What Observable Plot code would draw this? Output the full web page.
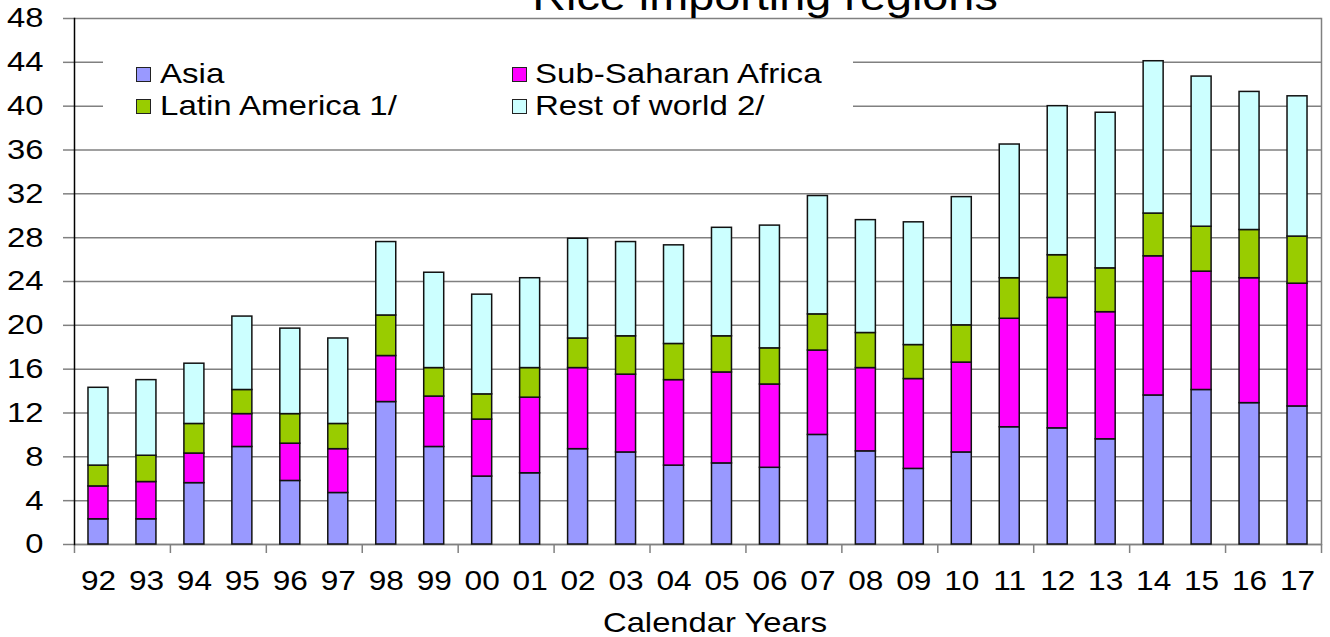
<!DOCTYPE html>
<html>
<head>
<meta charset="utf-8">
<script src="https://cdn.jsdelivr.net/npm/d3@7"></script>
<script src="https://cdn.jsdelivr.net/npm/@observablehq/plot@0.6"></script>
<style>
html, body { margin: 0; padding: 0; background: #fff; overflow: hidden; }
#wrap { position: relative; width: 1330px; height: 637px; font-family: "Liberation Sans", Arial, sans-serif; color: #000; }
#title { position: absolute; left: 765px; top: -23px; font-size: 39px; line-height: 39px; white-space: nowrap; transform: translateX(-50%) scaleX(1.2); }
#legend { position: absolute; left: 103px; top: 44px; width: 750px; height: 76px; background: #fff; }
.sw { position: absolute; width: 13px; height: 13px; border: 1px solid #222; }
.lt { position: absolute; font-size: 28px; line-height: 28px; white-space: nowrap; transform-origin: left center; transform: scaleX(1.18); }
</style>
</head>
<body>
<div id="wrap">
  <div id="chart"></div>
  <div id="title"></div>
  <div id="legend"></div>
</div>
<script>
const titleText = "Rice importing regions";
const xLabel = "Calendar Years";
const years = ["92","93","94","95","96","97","98","99","00","01","02","03","04","05","06","07","08","09","10","11","12","13","14","15","16","17"];
const regions = ["Asia", "Sub-Saharan Africa", "Latin America 1/", "Rest of world 2/"];
const colors = ["#9999FF", "#FF00FF", "#99CC00", "#CCFFFF"];
const asia  = [2.3,2.3,5.6,8.9,5.8,4.7,13.0,8.9,6.2,6.5,8.7,8.4,7.2,7.4,7.0,10.0,8.5,6.9,8.4,10.7,10.6,9.6,13.6,14.1,12.9,12.6];
const ssa   = [3.0,3.4,2.7,3.0,3.4,4.0,4.2,4.6,5.2,6.9,7.4,7.1,7.8,8.3,7.6,7.7,7.6,8.2,8.2,9.9,11.9,11.6,12.7,10.8,11.4,11.2];
const latam = [1.9,2.4,2.7,2.2,2.7,2.3,3.7,2.6,2.3,2.7,2.7,3.5,3.3,3.3,3.3,3.3,3.2,3.1,3.4,3.7,3.9,4.0,3.9,4.1,4.4,4.3];
const rest  = [7.1,6.9,5.5,6.7,7.8,7.8,6.7,8.7,9.1,8.2,9.1,8.6,9.0,9.9,11.2,10.8,10.3,11.2,11.7,12.2,13.6,14.2,13.9,13.7,12.6,12.8];
const yTicks = [0,4,8,12,16,20,24,28,32,36,40,44,48];

const series = [asia, ssa, latam, rest];
const data = years.flatMap((yr, i) => regions.map((r, j) => ({year: yr, region: r, value: series[j][i]})));
const evenYears = years.filter((d, i) => i % 2 === 0);
const lastYear = [years[years.length - 1]];

const plot = Plot.plot({
  width: 1330, height: 637,
  marginLeft: 74, marginRight: 9, marginTop: 18, marginBottom: 93,
  style: {fontFamily: "'Liberation Sans', Arial, sans-serif", fontSize: "27px", background: "white", color: "#000", overflow: "visible"},
  x: {domain: years, paddingInner: 0.583, paddingOuter: 0.2915, align: 0.5, round: false, axis: null},
  y: {domain: [0, 48], axis: null},
  color: {domain: regions, range: colors},
  marks: [
    Plot.gridY(yTicks, {stroke: "#808080", strokeOpacity: 1, strokeWidth: 1.5}),
    Plot.frame({anchor: "right", stroke: "#808080", strokeWidth: 1.5}),
    Plot.axisY(yTicks, {tickSize: 11, tickPadding: 20, stroke: "#808080", strokeWidth: 1.5, label: null, fontSize: 28}),
    Plot.axisX(evenYears, {tickSize: 9, dx: -24, fill: "none", stroke: "#808080", strokeWidth: 1.5, label: null}),
    Plot.axisX(lastYear, {tickSize: 9, dx: 24, fill: "none", stroke: "#808080", strokeWidth: 1.5, label: null}),
    Plot.axisX(years, {tickSize: 0, tickPadding: 26, label: null, fontSize: 27}),
    Plot.ruleY([0], {stroke: "#808080", strokeWidth: 1.5}),
    Plot.barY(data, {x: "year", y: "value", fill: "region", order: regions, stroke: "#111", strokeWidth: 1.5}),
    Plot.frame({anchor: "left", stroke: "#000", strokeWidth: 1.5}),
    Plot.text([xLabel], {frameAnchor: "bottom", lineAnchor: "middle", dx: 17, dy: 79, fontSize: 28})
  ]
});
document.getElementById("chart").appendChild(plot);

// widen glyphs slightly, as in the reference
plot.querySelectorAll("text").forEach(t => {
  const len = t.getComputedTextLength();
  if (len > 0) {
    t.setAttribute("textLength", len * 1.17);
    t.setAttribute("lengthAdjust", "spacingAndGlyphs");
  }
});

document.getElementById("title").textContent = titleText;

const legend = document.getElementById("legend");
const pos = [[33, 23, 57, 16], [409, 23, 432, 16], [33, 55, 57, 48], [409, 55, 432, 48]];
regions.forEach((name, i) => {
  const [sx, sy, tx, ty] = pos[i];
  const sw = document.createElement("div");
  sw.className = "sw";
  sw.style.left = sx + "px"; sw.style.top = sy + "px";
  sw.style.background = colors[i];
  legend.appendChild(sw);
  const lt = document.createElement("div");
  lt.className = "lt";
  lt.style.left = tx + "px"; lt.style.top = ty + "px";
  lt.textContent = name;
  legend.appendChild(lt);
});
</script>
</body>
</html>
